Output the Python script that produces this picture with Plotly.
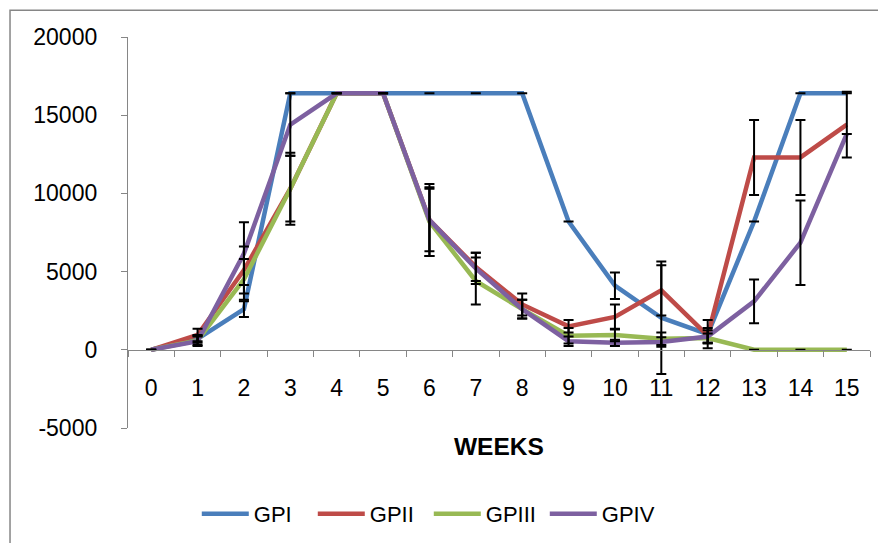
import plotly.graph_objects as go

weeks = [str(i) for i in range(16)]

gp1 = [0, 700, 2600, 16400, 16400, 16400, 16400, 16400, 16400, 8200, 4100, 2050, 1000, 8200, 16400, 16400]
gp2 = [0, 950, 5100, 10300, 16400, 16400, 8300, 5300, 2900, 1500, 2100, 3800, 900, 12300, 12300, 14400]
gp3 = [0, 600, 4500, 10300, 16400, 16400, 8200, 4400, 2600, 900, 950, 700, 750, 0, 0, 0]
gp4 = [0, 550, 6150, 14400, 16400, 16400, 8300, 5200, 2600, 550, 450, 500, 850, 3100, 6850, 13800]

gp1_err = [None, 250, 500, 0, None, None, None, None, None, 0, 850, 3600, 900, None, None, 0]
gp2_err = [None, 400, 1500, 2300, None, None, 2300, 900, 700, 400, 800, 1600, 500, 2400, 2400, 2100]
gp3_err = [None, 300, 1300, 2100, None, None, 2200, 1500, 600, 500, 400, 400, 300, None, None, None]
gp4_err = [None, 300, 2000, 2000, None, None, 2000, 1000, 600, 300, 200, 300, 400, 1400, 2700, None]

y_tickvals = [-5000, 0, 5000, 10000, 15000, 20000]
y_ticktext = ["-5000", "0", "5000", "10000", "15000", "20000"]

names = ["GPI", "GPII", "GPIII", "GPIV"]
colors = ["#4A7EBB", "#BE4B48", "#98B954", "#7D60A0"]
series = [gp1, gp2, gp3, gp4]
errors = [gp1_err, gp2_err, gp3_err, gp4_err]

FONT = "Liberation Sans, Arial, sans-serif"
AX = "#868686"

fig = go.Figure()
for n, c, s in zip(names, colors, series):
    fig.add_trace(go.Scatter(x=weeks, y=s, name=n, mode="lines",
                             line=dict(color=c, width=4.5)))
for n, s, e in zip(names, series, errors):
    fig.add_trace(go.Scatter(x=weeks, y=s, mode="markers", showlegend=False,
                             marker=dict(size=0.1, opacity=0),
                             error_y=dict(type="data", array=e, visible=True,
                                          color="black", thickness=2, width=5),
                             hoverinfo="skip"))

fig.update_layout(
    width=870, height=535,
    margin=dict(l=120, r=8, t=29, b=110),
    paper_bgcolor="white", plot_bgcolor="white",
    font=dict(family=FONT, size=23, color="black"),
    showlegend=True,
    legend=dict(orientation="h", x=0.0927, xanchor="left", y=-0.22, yanchor="middle",
                font=dict(size=22), itemwidth=47, entrywidth=54, entrywidthmode="pixels"),
    xaxis=dict(type="category", anchor="free", position=0.2, range=[-0.5, 15.5],
               showline=True, linecolor=AX, linewidth=1.3,
               ticks="outside", ticklen=6, tickcolor=AX, tickwidth=1.3,
               tickson="boundaries", showgrid=False, zeroline=False,
               ticklabelstandoff=17),
    yaxis=dict(range=[-5000, 20000], tickvals=y_tickvals, ticktext=y_ticktext,
               showline=True, linecolor=AX, linewidth=1.3,
               ticks="outside", ticklen=6, tickcolor=AX, tickwidth=1.3,
               showgrid=False, zeroline=False, ticklabelstandoff=19),
    annotations=[dict(text="<b>WEEKS</b>", x=0.5, xref="paper", y=-0.048, yref="paper",
                      showarrow=False, font=dict(size=24.5), xanchor="center", yanchor="middle")],
    shapes=[dict(type="rect", xref="paper", yref="paper", x0=-0.159, x1=1.2,
                 y0=-0.6, y1=1.0687, line=dict(color=AX, width=1.5), layer="below")],
)

fig.write_html("out.html")
